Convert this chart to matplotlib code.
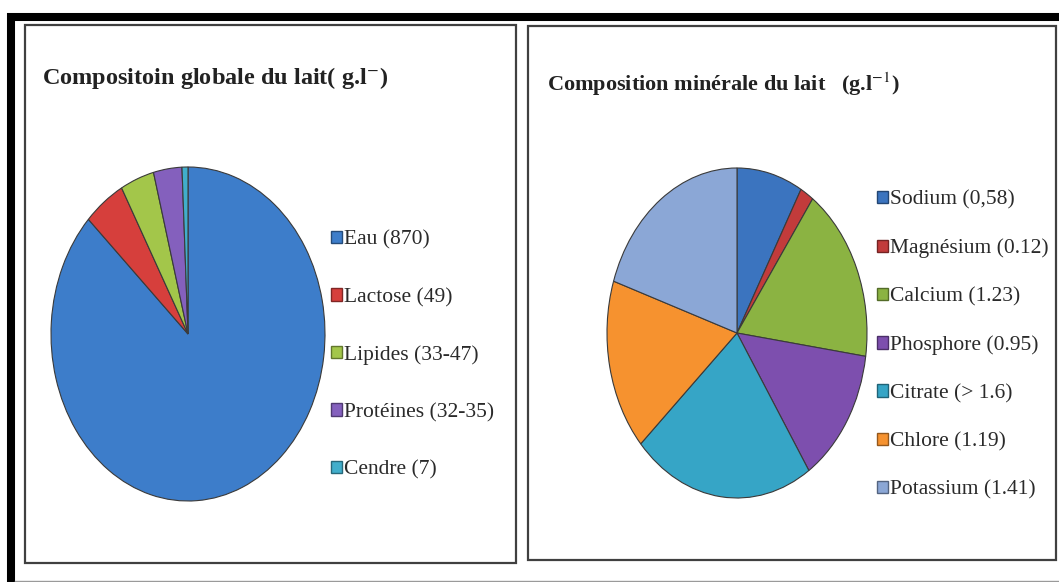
import matplotlib
matplotlib.use("Agg")
import matplotlib.pyplot as plt
from matplotlib.patches import Rectangle, Patch
from matplotlib.lines import Line2D
from matplotlib.colors import to_rgb

plt.rcParams['font.family'] = ['Liberation Serif', 'DejaVu Serif']
plt.rcParams['mathtext.fontset'] = 'stix'

# composition globale (g/l)
lait_labels = ["Eau (870)", "Lactose (49)", "Lipides (33-47)", "Protéines (32-35)", "Cendre (7)"]
lait_valeurs = [870, 49, 40, 33.5, 7]
lait_couleurs = ["#3d7dca", "#d63f3c", "#a3c64a", "#8460bd", "#41aecb"]

# composition minerale (g/l)
min_labels = ["Sodium (0,58)", "Magnésium (0.12)", "Calcium (1.23)", "Phosphore (0.95)",
              "Citrate (> 1.6)", "Chlore (1.19)", "Potassium (1.41)"]
min_valeurs = [0.58, 0.12, 1.23, 0.95, 1.6, 1.19, 1.41]
min_couleurs = ["#3b74bf", "#c23b3b", "#8bb342", "#7d4fae", "#36a5c6", "#f6922f", "#8ba7d6"]

W, H = 1059, 582
fig = plt.figure(figsize=(W / 100, H / 100), dpi=100)


def px_box(x0, y0, x1, y1):
    # pixels (origine en haut a gauche) -> fraction de figure
    return [x0 / W, 1 - y1 / H, (x1 - x0) / W, (y1 - y0) / H]


def plus_fonce(c, f=0.6):
    r, g, b = to_rgb(c)
    return (r * f, g * f, b * f)


# cadres
for x0, y0, x1, y1 in [(25, 25, 516, 563), (528, 26, 1056, 560)]:
    fig.add_artist(Rectangle((x0 / W, 1 - y1 / H), (x1 - x0) / W, (y1 - y0) / H,
                             transform=fig.transFigure, fill=False, lw=1.6, ec='#404040'))
fig.add_artist(Line2D([7 / W, 1], [1 - 17 / H] * 2, transform=fig.transFigure,
                      color='black', lw=5.8, solid_capstyle='butt'))
fig.add_artist(Line2D([11 / W] * 2, [1 - 13 / H, 0], transform=fig.transFigure,
                      color='black', lw=5.8, solid_capstyle='butt'))
fig.add_artist(Line2D([15 / W, 1], [1 - 581 / H] * 2, transform=fig.transFigure,
                      color='#9a9a9a', lw=1))


def camembert(box, valeurs, couleurs):
    ax = fig.add_axes(px_box(*box))
    ax.pie(valeurs, colors=couleurs, startangle=90, counterclock=False,
           wedgeprops=dict(edgecolor='#3a3a3a', linewidth=0.8))
    ax.set_aspect('auto')
    ax.set_xlim(-1, 1)
    ax.set_ylim(-1, 1)
    return ax


camembert((51, 167, 325, 501), lait_valeurs, lait_couleurs)
camembert((607, 168, 867, 498), min_valeurs, min_couleurs)

# titres
fig.text(42 / W, 1 - 78 / H, "Compositoin globale du lait( g.l$^{-}$)",
         fontsize=17.5, fontweight='bold', va='center', color='#222222')
fig.text(547 / W, 1 - 84 / H, "Composition minérale du lait   (g.l$^{-1}$)",
         fontsize=16, fontweight='bold', va='center', color='#222222')

# legendes
h1 = [Patch(facecolor=c, edgecolor=plus_fonce(c)) for c in lait_couleurs]
fig.legend(h1, lait_labels, loc='center left', bbox_to_anchor=(331 / W, 1 - 355 / H),
           frameon=False, fontsize=15.5, handlelength=0.5, handleheight=0.5,
           handletextpad=0.12, labelspacing=1.77, borderpad=0, borderaxespad=0,
           labelcolor='#2a2a2a')

h2 = [Patch(facecolor=c, edgecolor=plus_fonce(c)) for c in min_couleurs]
fig.legend(h2, min_labels, loc='center left', bbox_to_anchor=(877 / W, 1 - 345 / H),
           frameon=False, fontsize=15.5, handlelength=0.5, handleheight=0.5,
           handletextpad=0.12, labelspacing=1.34, borderpad=0, borderaxespad=0,
           labelcolor='#2a2a2a')

fig.savefig("out.png", dpi=100)
